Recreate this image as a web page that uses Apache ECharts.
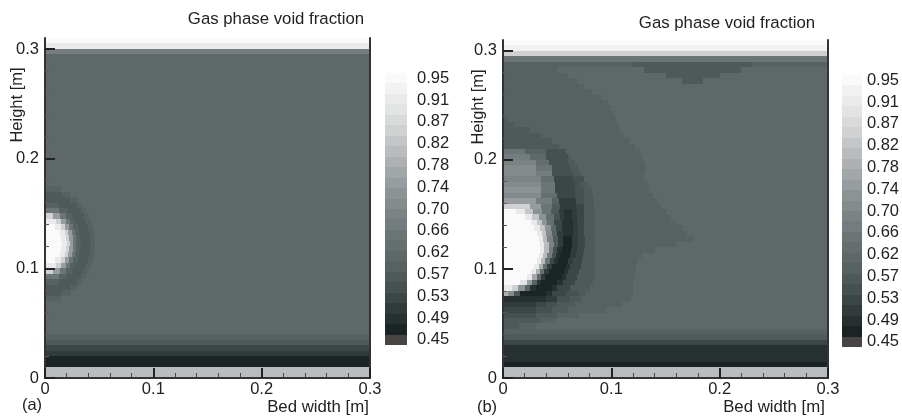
<!DOCTYPE html>
<html>
<head>
<meta charset="utf-8">
<script src="https://cdn.jsdelivr.net/npm/echarts@6/dist/echarts.min.js"></script>
<style>
html,body{margin:0;padding:0;background:#ffffff;}
#chart{width:902px;height:417px;}
</style>
</head>
<body>
<div id="chart"></div>
<script>
// ---------- DATA ----------
// contour level codes and their void-fraction values
const codes = "abcdefghijklmnopqrstuvwxyz";
const codeValues = [0.45,0.47,0.49,0.51,0.53,0.55,0.57,0.59,0.61,0.63,0.65,0.67,0.69,
                    0.71,0.73,0.75,0.77,0.79,0.81,0.83,0.85,0.87,0.89,0.91,0.93,0.95];
// colour-bar tick labels and their values
const tickLabels = ['0.45','0.49','0.53','0.57','0.62','0.66','0.70','0.74','0.78','0.82','0.87','0.91','0.95'];
const tickValues = [0.45,0.4917,0.5333,0.575,0.6167,0.6583,0.70,0.7417,0.7833,0.825,0.8667,0.9083,0.95];
// axis ticks
const xTicks = [0, 0.1, 0.2, 0.3];
const yTicks = [0, 0.1, 0.2, 0.3];
const yMinorTicks = [0.02,0.04,0.06,0.08,0.12,0.14,0.16,0.18,0.22,0.24,0.26,0.28];
// Field rows, listed from the top of the bed (0.31 m) down to 0, each 0.005 m high.
// Each row: "code:xEnd" runs along the bed width (m).
const fieldA = [
"z:.3","x:.3","l:.3",
"i:.3","i:.3","i:.3","i:.3","i:.3","i:.3","i:.3","i:.3","i:.3","i:.3","i:.3","i:.3",
"i:.3","i:.3","i:.3","i:.3","i:.3","i:.3","i:.3","i:.3","i:.3","i:.3","i:.3","i:.3",
"h:.015 i:.3",
"g:.0153 h:.0242 i:.3",
"g:.0235 h:.0301 i:.3",
"h:.0128 g:.0289 h:.0345 i:.3",
"k:.0127 h:.0202 g:.0329 h:.0379 i:.3",
"u:.0075 p:.0143 k:.0192 h:.0248 g:.0359 h:.0405 i:.3",
"x:.0099 u:.015 p:.0193 k:.0232 h:.028 g:.0382 h:.0426 i:.3",
"z:.0093 x:.0152 u:.0189 p:.0225 k:.0259 h:.0303 g:.0399 h:.0441 i:.3",
"z:.0134 x:.018 u:.0213 p:.0245 k:.0277 h:.0318 g:.0411 h:.0452 i:.3",
"z:.015 x:.0195 u:.0226 p:.0256 k:.0287 h:.0327 g:.0418 h:.0458 i:.3",
"z:.016 x:.020 u:.023 p:.026 k:.029 h:.033 g:.042 h:.046 i:.3",
"z:.015 x:.0195 u:.0226 p:.0256 k:.0287 h:.0327 g:.0418 h:.0458 i:.3",
"z:.0134 x:.018 u:.0213 p:.0245 k:.0277 h:.0318 g:.0411 h:.0452 i:.3",
"z:.0093 x:.0152 u:.0189 p:.0225 k:.0259 h:.0303 g:.0399 h:.0441 i:.3",
"x:.0099 u:.015 p:.0193 k:.0232 h:.028 g:.0382 h:.0426 i:.3",
"u:.0075 p:.0143 k:.0192 h:.0248 g:.0359 h:.0405 i:.3",
"k:.0127 h:.0202 g:.0329 h:.0379 i:.3",
"h:.0128 g:.0289 h:.0345 i:.3",
"g:.0235 h:.0301 i:.3",
"g:.0153 h:.0242 i:.3",
"h:.015 i:.3",
"i:.3","i:.3","i:.3","i:.3","i:.3","i:.3",
"h:.3","g:.3","e:.3","d:.3","b:.3","b:.3","s:.3","s:.3"
];
const fieldB = [
"z:.3","y:.3","u:.3","k:.3",
"h:.12 g:.23 h:.3",
"h:.05 i:.13 g:.22 i:.3",
"h:.06 i:.15 g:.2 i:.3",
"h:.068 i:.165 g:.185 i:.3",
"h:.075 i:.3",
"h:.082 i:.3",
"h:.09 i:.3",
"h:.097 i:.3",
"h:.1 i:.3",
"h:.102 i:.3",
"g:.005 h:.104 i:.3",
"g:.01 h:.106 i:.3",
"g:.025 h:.108 i:.3",
"g:.035 h:.112 i:.3",
"g:.045 h:.117 i:.3",
"g:.052 h:.122 i:.3",
"k:.02 h:.04 f:.058 h:.126 i:.3",
"l:.025 i:.04 f:.06 g:.062 h:.128 i:.3",
"m:.03 j:.042 f:.06 g:.066 h:.13 i:.3",
"n:.03 k:.045 f:.062 g:.069 h:.132 i:.3",
"n:.03 l:.045 f:.065 g:.072 h:.13 i:.3",
"m:.035 j:.047 e:.065 f:.075 h:.13 i:.3",
"n:.035 k:.048 e:.066 f:.072 g:.078 h:.133 i:.3",
"o:.035 k:.048 e:.066 f:.075 g:.082 h:.135 i:.3",
"n:.035 j:.05 e:.066 f:.075 g:.083 h:.138 i:.3",
"p:.03 l:.045 h:.052 d:.067 f:.075 g:.084 h:.142 i:.3",
"u:.025 p:.035 k:.045 g:.053 d:.067 e:.075 g:.084 h:.146 i:.3",
"z:.012 x:.02 t:.028 o:.036 k:.044 g:.052 d:.056 c:.064 d:.068 e:.075 g:.085 h:.15 i:.3",
"z:.02 x:.027 t:.033 o:.04 j:.047 f:.053 d:.056 c:.064 d:.068 e:.075 g:.085 h:.155 i:.3",
"z:.026 x:.031 t:.036 o:.041 j:.047 e:.054 c:.065 d:.068 e:.075 g:.085 h:.16 i:.3",
"z:.029 x:.034 t:.039 o:.044 i:.049 e:.054 c:.065 d:.069 e:.075 g:.085 h:.165 i:.3",
"z:.031 x:.036 t:.04 n:.045 h:.05 d:.055 c:.065 d:.069 e:.075 g:.085 h:.17 i:.3",
"z:.033 x:.037 s:.041 m:.046 g:.051 d:.055 b:.064 d:.069 e:.076 g:.085 h:.175 i:.3",
"z:.034 x:.038 s:.042 m:.047 g:.051 d:.055 b:.064 d:.069 e:.076 g:.085 h:.16 i:.3",
"z:.034 x:.038 s:.042 l:.046 f:.05 c:.054 b:.063 d:.068 e:.075 g:.085 h:.14 i:.3",
"z:.033 x:.037 s:.041 l:.045 f:.049 c:.053 b:.062 d:.067 e:.074 g:.085 h:.128 i:.3",
"z:.031 x:.035 s:.039 k:.043 e:.047 c:.051 b:.06 d:.065 e:.073 g:.085 h:.125 i:.3",
"z:.029 x:.033 r:.037 j:.041 d:.045 b:.058 c:.062 e:.072 g:.085 h:.123 i:.3",
"z:.026 x:.03 r:.034 j:.038 d:.042 b:.056 c:.06 e:.07 g:.085 h:.122 i:.3",
"z:.022 x:.027 q:.031 i:.035 d:.039 b:.054 c:.058 e:.068 g:.085 h:.121 i:.3",
"z:.016 w:.022 p:.027 h:.031 c:.035 b:.05 c:.055 e:.066 g:.083 h:.12 i:.3",
"x:.008 u:.014 o:.02 h:.025 c:.03 b:.045 c:.05 e:.062 g:.08 h:.12 i:.3",
"r:.005 n:.01 g:.016 b:.04 c:.045 e:.058 f:.07 g:.077 h:.12 i:.3",
"c:.04 d:.05 f:.062 g:.072 h:.118 i:.3",
"d:.03 e:.04 f:.05 g:.066 h:.11 i:.3",
"e:.03 f:.045 g:.06 h:.095 i:.3",
"f:.03 g:.05 h:.07 i:.3",
"g:.035 h:.05 i:.3",
"g:.015 h:.03 i:.3",
"h:.3","g:.3","e:.3","c:.3","c:.3","c:.3","b:.3","s:.3","s:.3"
];

// ---------- STYLE ----------
const bandColors = ['#4a4545','#1b2425','#263031','#313b3c','#3b4647','#455051','#4e595a','#566162',
  '#5e6869','#646e6f','#6b7576','#737c7e','#7b8385','#838b8d','#8c9395','#969ca0','#a1a6a9',
  '#adb1b4','#b9bcbf','#c4c7c9','#cfd1d3','#d9dadc','#e2e3e4','#eaeaeb','#f2f2f2','#fafafa'];
const Y_MAX = 0.31, ROW_H = 0.005, BAND_HALF = 0.01;
const FONT = '"Liberation Sans", Arial, Helvetica, sans-serif';
const TXT = '#222';
const FS = 16.5;

function buildField(rows) {
  const items = [];
  rows.forEach((row, k) => {
    const yTop = Y_MAX - k * ROW_H, yBot = yTop - ROW_H;
    let x0 = 0;
    row.trim().split(/\s+/).forEach(seg => {
      const parts = seg.split(':');
      const x1 = parseFloat(parts[1]);
      items.push([x0, x1, yTop, yBot, codeValues[codes.indexOf(parts[0])]]);
      x0 = x1;
    });
  });
  return items;
}
const barData = codeValues.map(v => [0, 1, v + BAND_HALF, v - BAND_HALF, v]);

function renderCell(params, api) {
  const p0 = api.coord([api.value(0), api.value(2)]);
  const p1 = api.coord([api.value(1), api.value(3)]);
  const x = Math.round(p0[0]), y = Math.round(p0[1]);
  const w = Math.round(p1[0]) - x, h = Math.round(p1[1]) - y;
  return {
    type: 'rect',
    shape: { x: x, y: y, width: w, height: h },
    style: { fill: api.visual('color'), stroke: null }
  };
}

const grids = [
  { left: 45, top: 38, width: 325, height: 340 },
  { left: 503, top: 40, width: 325, height: 338 },
  { left: 385, top: 73, width: 22, height: 272 },
  { left: 842, top: 75, width: 21, height: 272 }
];

function plotX(gi) {
  return [{
    gridIndex: gi, type: 'value', min: 0, max: 0.3, interval: 0.1, position: 'bottom', z: 10,
    axisLine: { show: true, lineStyle: { color: '#333', width: 2 } },
    axisTick: { show: true, inside: true, length: 10, lineStyle: { color: '#222', width: 2 } },
    minorTick: { show: true, splitNumber: 5, length: 5, lineStyle: { color: '#444', width: 1 } },
    axisLabel: { customValues: xTicks, fontFamily: FONT, fontSize: FS, color: TXT, margin: 3,
                 formatter: v => String(Math.round(v * 10) / 10) },
    splitLine: { show: false }, minorSplitLine: { show: false }
  }, {
    gridIndex: gi, type: 'value', min: 0, max: 0.3, position: 'top', z: 10,
    axisLine: { show: true, lineStyle: { color: '#333', width: 2 } },
    axisTick: { show: false }, axisLabel: { show: false }, splitLine: { show: false }
  }];
}
function plotY(gi) {
  return [{
    gridIndex: gi, type: 'value', min: 0, max: Y_MAX, position: 'left', z: 10,
    axisLine: { show: true, lineStyle: { color: '#333', width: 2 } },
    axisTick: { show: true, inside: true, length: 10, customValues: yTicks, lineStyle: { color: '#222', width: 2 } },
    axisLabel: { customValues: yTicks, fontFamily: FONT, fontSize: FS, color: TXT, margin: 6,
                 formatter: v => String(Math.round(v * 10) / 10) },
    splitLine: { show: false }, minorSplitLine: { show: false }
  }, {
    gridIndex: gi, type: 'value', min: 0, max: Y_MAX, position: 'left', z: 11,
    axisLine: { show: false },
    axisTick: { show: true, inside: true, length: 4, customValues: yMinorTicks, lineStyle: { color: '#5a5a5a', width: 1 } },
    axisLabel: { show: false }, splitLine: { show: false }
  }, {
    gridIndex: gi, type: 'value', min: 0, max: Y_MAX, position: 'right', z: 10,
    axisLine: { show: true, lineStyle: { color: '#333', width: 2 } },
    axisTick: { show: false }, axisLabel: { show: false }, splitLine: { show: false }
  }];
}
function barX(gi) {
  return { gridIndex: gi, type: 'value', min: 0, max: 1, show: false, splitLine: { show: false } };
}
function barY(gi, margin) {
  return {
    gridIndex: gi, type: 'value', min: 0.44, max: 0.96, position: 'right',
    axisLine: { show: false }, axisTick: { show: false }, splitLine: { show: false },
    axisLabel: {
      customValues: tickValues, margin: margin, fontFamily: FONT, fontSize: FS, color: TXT,
      formatter: v => {
        let best = 0;
        tickValues.forEach((t, i) => { if (Math.abs(t - v) < Math.abs(tickValues[best] - v)) best = i; });
        return tickLabels[best];
      }
    }
  };
}

function txt(text, x, y, size) {
  return {
    type: 'text', x: x, y: y, z: 20,
    style: { text: text, fill: TXT, font: (size || FS) + 'px ' + FONT, align: 'center', verticalAlign: 'middle' }
  };
}

// y axes: [a-left, a-minor, a-right, b-left, b-minor, b-right, barA, barB]
const option = {
  animation: false,
  backgroundColor: '#ffffff',
  grid: grids,
  xAxis: [].concat(plotX(0), plotX(1), [barX(2), barX(3)]),
  yAxis: [].concat(plotY(0), plotY(1), [barY(2, 10), barY(3, 5)]),
  visualMap: {
    type: 'continuous', show: false, min: 0.45, max: 0.95, dimension: 4,
    seriesIndex: [0, 1, 2, 3], inRange: { color: bandColors }
  },
  series: [
    { type: 'custom', xAxisIndex: 0, yAxisIndex: 0, clip: true, renderItem: renderCell, data: buildField(fieldA) },
    { type: 'custom', xAxisIndex: 2, yAxisIndex: 3, clip: true, renderItem: renderCell, data: buildField(fieldB) },
    { type: 'custom', xAxisIndex: 4, yAxisIndex: 6, clip: true, renderItem: renderCell, data: barData },
    { type: 'custom', xAxisIndex: 5, yAxisIndex: 7, clip: true, renderItem: renderCell, data: barData }
  ],
  graphic: [
    txt('Gas phase void fraction', 276, 19, 16.8),
    txt('Gas phase void fraction', 727, 23, 16.8),
    Object.assign(txt('Height [m]', 17, 105), { rotation: Math.PI / 2 }),
    Object.assign(txt('Height [m]', 478, 107), { rotation: Math.PI / 2 }),
    txt('Bed width [m]', 318, 407, 16.8),
    txt('Bed width [m]', 774, 407, 16.8),
    txt('(a)', 32, 405),
    txt('(b)', 487, 407)
  ]
};

const chart = echarts.init(document.getElementById('chart'), null, { renderer: 'canvas' });
chart.setOption(option);
</script>
</body>
</html>
